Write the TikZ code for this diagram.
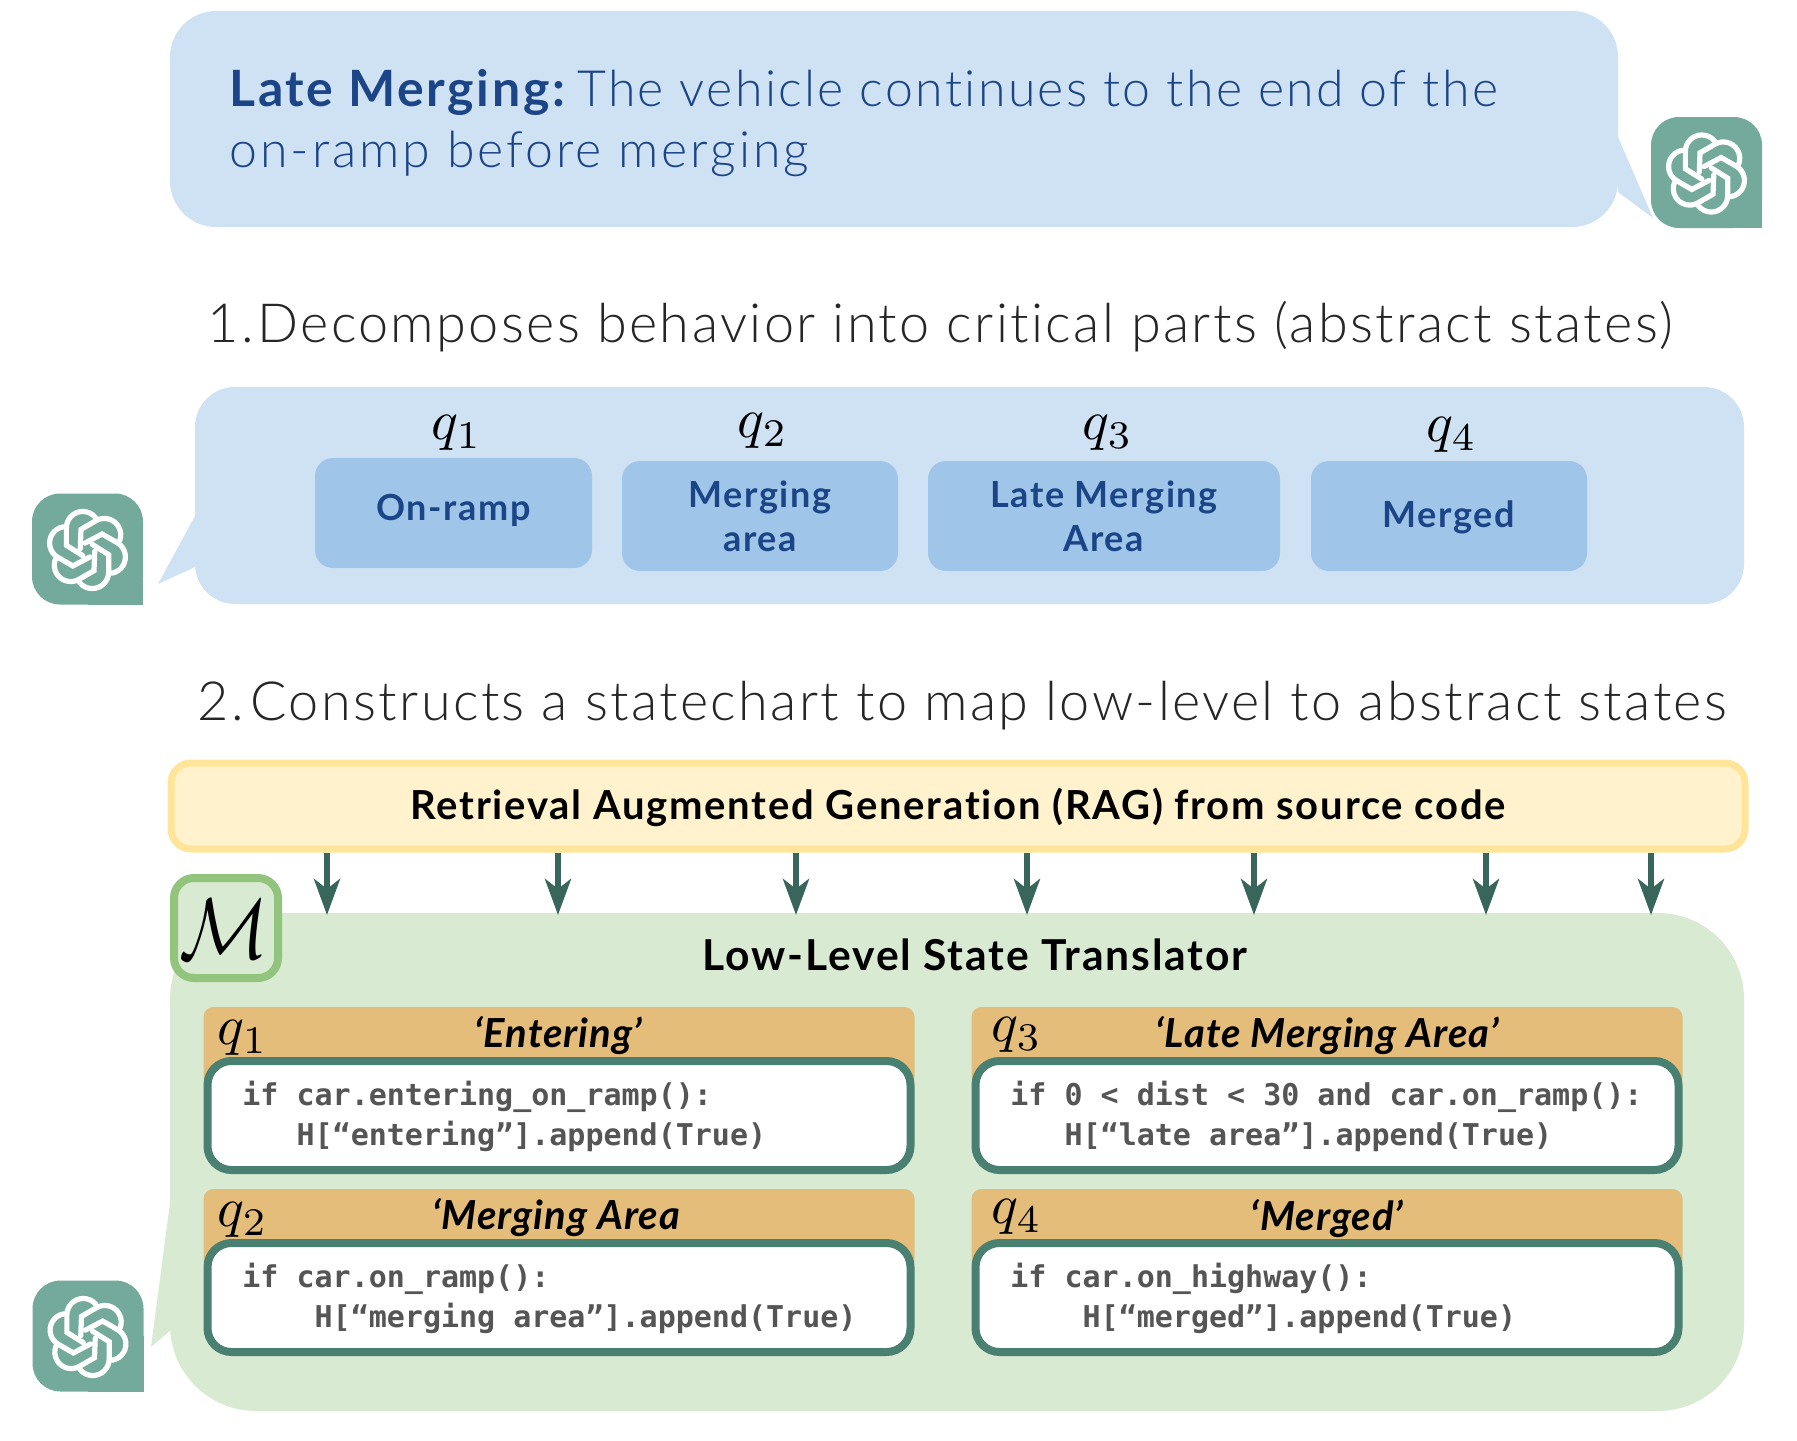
\documentclass[tikz,border=0pt]{standalone}
\usepackage{fontspec}
\setmainfont{Lato}[UprightFont=* Light, BoldFont=* Bold, BoldItalicFont=* Bold Italic, Ligatures=NoCommon,
  UprightFeatures={LetterSpace=3.2}, BoldFeatures={LetterSpace=4.4}, BoldItalicFeatures={LetterSpace=2.5}]
\setmonofont{DejaVu Sans Mono}
\newfontfamily\stepfont{Lato Light}[LetterSpace=4.4, Ligatures=NoCommon]
\newfontfamily\leadfont{Lato Light}[LetterSpace=4.7, Ligatures=NoCommon]
\newfontfamily\leadlast{Lato Light}[LetterSpace=6, Ligatures=NoCommon]
\newfontfamily\leadbold{Lato Bold}[LetterSpace=5.3, Ligatures=NoCommon]
\usetikzlibrary{arrows.meta}
\definecolor{bubbleblue}{HTML}{CFE2F3}
\definecolor{stateblue}{HTML}{9FC5E8}
\definecolor{darkblue}{HTML}{1C4587}
\definecolor{ragfill}{HTML}{FFF2CC}
\definecolor{ragline}{HTML}{FFE599}
\definecolor{bubblegreen}{HTML}{D9EAD3}
\definecolor{mline}{HTML}{93C47D}
\definecolor{headorange}{HTML}{E3BD79}
\definecolor{codeline}{HTML}{4A8072}
\definecolor{flowgreen}{HTML}{38665A}
\definecolor{logogreen}{HTML}{74AA9C}
\definecolor{codegray}{HTML}{555555}
\tikzset{>=stealth}
\tikzset{
  statebox/.style={fill=stateblue, rounded corners=9pt, minimum height=55pt, align=center,
    text=darkblue, font=\fontsize{18}{22}\selectfont\bfseries, inner sep=0pt},
  headbox/.style={fill=headorange, rounded corners=5pt, minimum width=355.5pt, minimum height=40pt},
  codebox/.style={draw=codeline, fill=white, line width=4pt, rounded corners=12pt,
    minimum width=351.5pt, minimum height=54.5pt},
  codetext/.style={anchor=west, align=left, text=codegray, inner sep=0pt,
    font=\fontsize{15}{20}\selectfont\ttfamily\bfseries},
  headtext/.style={font=\fontsize{20}{23}\selectfont\bfseries\itshape, inner sep=0pt},
  qlabel/.style={scale=2.8, inner sep=0pt},
  steptext/.style={anchor=base west, inner sep=0pt, text=black!85,
    font=\fontsize{27}{30}\selectfont\stepfont},
  flow/.style={-{Stealth[length=18pt, width=13pt, inset=5pt]}, flowgreen, line width=3pt, shorten >=-1.2pt},
  gptlogo/.pic={
    \fill[logogreen, rounded corners=14pt] (-55.5,-55.5) rectangle (55.5,55.5);
    \fill[logogreen] (0,0) rectangle (55.5,55.5);
    \foreach \a in {0,60,...,300}
      \draw[white, line width=2.6pt, line cap=round, shift={(0,1)}, rotate=\a, scale=0.94]
        (-5,6) -- (-22.5,-5) -- (-22.5,-23.5) arc[start angle=180, end angle=321, radius=17.5];
  }
}
\begin{document}
\begin{tikzpicture}[x=0.5pt, y=-0.5pt]
  \useasboundingbox (0,0) rectangle (1797,1440);

  % top bubble
  \fill[bubbleblue] (1618,137) -- (1653,218) -- (1618,192) -- cycle;
  \node[fill=bubbleblue, rounded corners=23pt, minimum width=724pt, minimum height=108pt] (behavior) at (894,119) {};
  \node[anchor=base west, inner sep=0pt, text=darkblue, font=\fontsize{25}{30.5}\selectfont] (behaviortext) at (229,106)
    {{\leadbold Late Merging:}\hspace{-4pt} {\leadfont The vehicle continues to the end of the}};
  \node[anchor=base west, inner sep=0pt, text=darkblue, font=\fontsize{25}{30.5}\selectfont\leadlast] (behaviortext2) at (229,167)
    {on-ramp before merging};
  \pic at (1706.5,172.5) {gptlogo};

  % abstract states
  \node[steptext] (step1) at (207,342) {1.\hspace{-9.5pt} Decomposes behavior into critical parts (abstract states)};
  \fill[bubbleblue] (195,516) -- (158,584) -- (195,567) -- cycle;
  \node[fill=bubbleblue, rounded corners=20pt, minimum width=774.5pt, minimum height=108.5pt] (abstract) at (969.5,495.5) {};
  \pic at (87.5,549) {gptlogo};
  \node[statebox, minimum width=138.5pt, text depth=6pt] (onramp) at (453.5,513) {On-ramp};
  \node[statebox, minimum width=138pt] (merging) at (760,516) {Merging\\area};
  \node[statebox, minimum width=176pt] (late) at (1104,516) {Late Merging\\Area};
  \node[statebox, minimum width=138pt, text depth=2pt] (merged) at (1449,516) {Merged};
  \node[qlabel] (q1) at (457,433) {$q_1$};
  \node[qlabel] (q2) at (763,431) {$q_2$};
  \node[qlabel] (q3) at (1108,433) {$q_3$};
  \node[qlabel] (q4) at (1452,435) {$q_4$};

  % statechart
  \node[steptext] (step2) at (197,720) {2.\hspace{-8pt} Constructs a statechart to map low-level to abstract states};
  \node[fill=ragfill, draw=ragline, line width=3.5pt, rounded corners=10pt, minimum width=787pt, minimum height=43pt,
    text depth=2pt, font=\fontsize{20}{23}\selectfont\bfseries] (rag) at (958,806)
    {Retrieval Augmented Generation (RAG) from source code};
  \fill[bubblegreen] (170,1203) -- (151,1347) -- (171,1330) -- cycle;
  \node[fill=bubblegreen, rounded corners=43pt, minimum width=787pt, minimum height=249pt] (translator) at (957,1162) {};
  \foreach \x in {327,558,796,1027,1254,1486,1651}
    \draw[flow] (\x,0 |- rag.south) -- (\x,0 |- translator.north);
  \node[fill=bubblegreen, draw=mline, line width=4pt, rounded corners=10pt, minimum width=52pt, minimum height=50pt] (mbox) at (226,928) {};
  \node[xscale=3.7, yscale=4.3, inner sep=0pt] (mlabel) at (224,929) {$\mathcal{M}$};
  \node[inner sep=0pt, font=\fontsize{21.3}{25}\selectfont\bfseries] (title) at (975,955) {Low-Level State Translator};
  \pic at (88,1336) {gptlogo};

  \foreach \x/\name in {559/left,1327/right}
    \foreach \y/\row in {1047/top,1229/bot} {
      \node[headbox] (head\name\row) at (\x,\y) {};
      \node[codebox] (code\name\row) at (\x,\y+68.5) {};
    }
  \node[qlabel] (c1) at (243,1038) {$q_1$};
  \node[qlabel] (c2) at (243,1220) {$q_2$};
  \node[qlabel] (c3) at (1017,1035) {$q_3$};
  \node[qlabel] (c4) at (1017,1217) {$q_4$};
  \node[headtext] (t1) at (558,1036) {‘Entering’};
  \node[headtext] (t2) at (556,1218) {‘Merging Area};
  \node[headtext] (t3) at (1327,1036) {‘Late Merging Area’};
  \node[headtext] (t4) at (1327,1219) {‘Merged’};
  \node[codetext] (s1) at (242,1116) {if car.entering\_on\_ramp():\\\ \ \ H[“entering”].append(True)};
  \node[codetext] (s2) at (242,1298) {if car.on\_ramp():\\\ \ \ \ H[“merging area”].append(True)};
  \node[codetext] (s3) at (1010,1116) {if 0 < dist < 30 and car.on\_ramp():\\\ \ \ H[“late area”].append(True)};
  \node[codetext] (s4) at (1010,1298) {if car.on\_highway():\\\ \ \ \ H[“merged”].append(True)};
\end{tikzpicture}
\end{document}
